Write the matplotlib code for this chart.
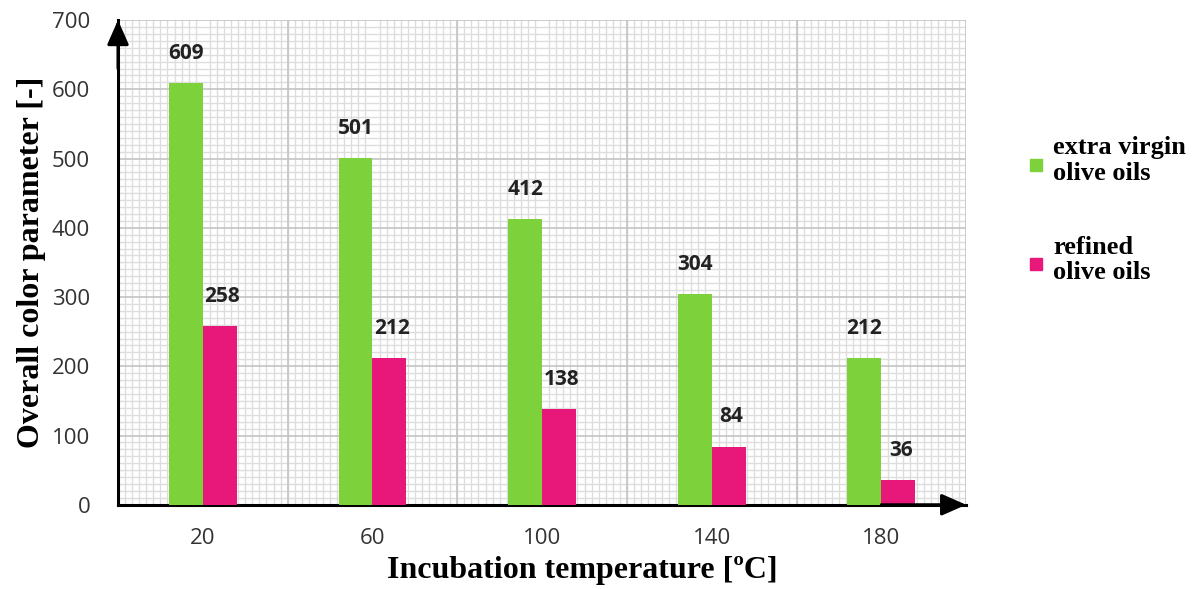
"""Overall colour parameter of olive oils vs incubation temperature."""

import matplotlib.pyplot as plt
import numpy as np
from matplotlib.patches import Rectangle
from matplotlib.ticker import MultipleLocator

temperatures = ["20", "60", "100", "140", "180"]
extra_virgin = [609, 501, 412, 304, 212]
refined = [258, 212, 138, 84, 36]

GREEN = "#7dd13b"
PINK = "#e8177a"

fig = plt.figure(figsize=(11.98, 5.89), dpi=100)
ax = fig.add_axes([0.0985, 0.143, 0.708, 0.823])

x = np.arange(len(temperatures))
width = 0.2
ax.bar(x - width / 2, extra_virgin, width, color=GREEN, zorder=3)
ax.bar(x + width / 2, refined, width, color=PINK, zorder=3)

for xi, v in zip(x, extra_virgin):
    ax.text(xi - width / 2, v + 43, str(v), ha="center", va="center",
            fontsize=15, fontweight="bold", color="#222222", family="Open Sans")
for xi, v in zip(x, refined):
    ax.text(xi + width / 2 + 0.015, v + 43, str(v), ha="center", va="center",
            fontsize=15, fontweight="bold", color="#222222", family="Open Sans")

ax.set_xlim(-0.5, len(temperatures) - 0.5)
ax.set_ylim(0, 700)
ax.set_xticks(x)
ax.set_xticklabels(temperatures)
ax.yaxis.set_major_locator(MultipleLocator(100))
ax.yaxis.set_minor_locator(MultipleLocator(10))
ax.xaxis.set_minor_locator(MultipleLocator(1 / 24))
ax.tick_params(axis="both", which="both", length=0, labelsize=16,
               labelcolor="#333333")
ax.tick_params(axis="y", pad=20)
ax.tick_params(axis="x", pad=17)
for lab in ax.get_xticklabels() + ax.get_yticklabels():
    lab.set_family("Open Sans")

# category boundaries as major vertical lines
for b in np.arange(-0.5, len(temperatures), 1.0):
    ax.axvline(b, color="#c4c4c4", linewidth=1.2, zorder=1)
ax.grid(True, axis="y", which="major", color="#c4c4c4", linewidth=1.2, zorder=1)
ax.grid(True, which="minor", color="#dddddd", linewidth=1.0, zorder=0)
ax.set_axisbelow(True)

for side in ("top", "right"):
    ax.spines[side].set_visible(False)
for side in ("left", "bottom"):
    ax.spines[side].set_linewidth(2.2)
    ax.spines[side].set_color("black")

# axis arrows
arrow = dict(arrowstyle="-|>,head_length=0.75,head_width=0.33", color="black",
             lw=2.2, shrinkA=0, shrinkB=0, mutation_scale=20)
ax.annotate("", xy=(0, 1.0), xytext=(0, 0.9), xycoords="axes fraction",
            arrowprops=arrow, annotation_clip=False)
ax.annotate("", xy=(1.0, 0), xytext=(0.9, 0), xycoords="axes fraction",
            arrowprops=arrow, annotation_clip=False)

ax.set_xlabel("Incubation temperature [ºC]", fontsize=23, fontweight="bold",
              family="Liberation Serif", labelpad=5)
ax.xaxis.label.set_x(0.547)
ax.set_ylabel("Overall color parameter [-]", fontsize=23, fontweight="bold",
              family="Liberation Serif", labelpad=4)

# legend
legend_items = [(GREEN, "extra virgin\nolive oils", 0.7199, 0.728),
                (PINK, "refined\nolive oils", 0.5518, 0.5586)]
for color, label, ysq, ytxt in legend_items:
    fig.patches.append(Rectangle((0.8598, ysq - 0.0102), 0.01, 0.0204,
                                 transform=fig.transFigure, color=color))
    fig.text(0.879, ytxt, label, fontsize=19, fontweight="bold",
             family="Liberation Serif", va="center", ha="left",
             linespacing=1.15)

fig.savefig("out.png", dpi=100)
